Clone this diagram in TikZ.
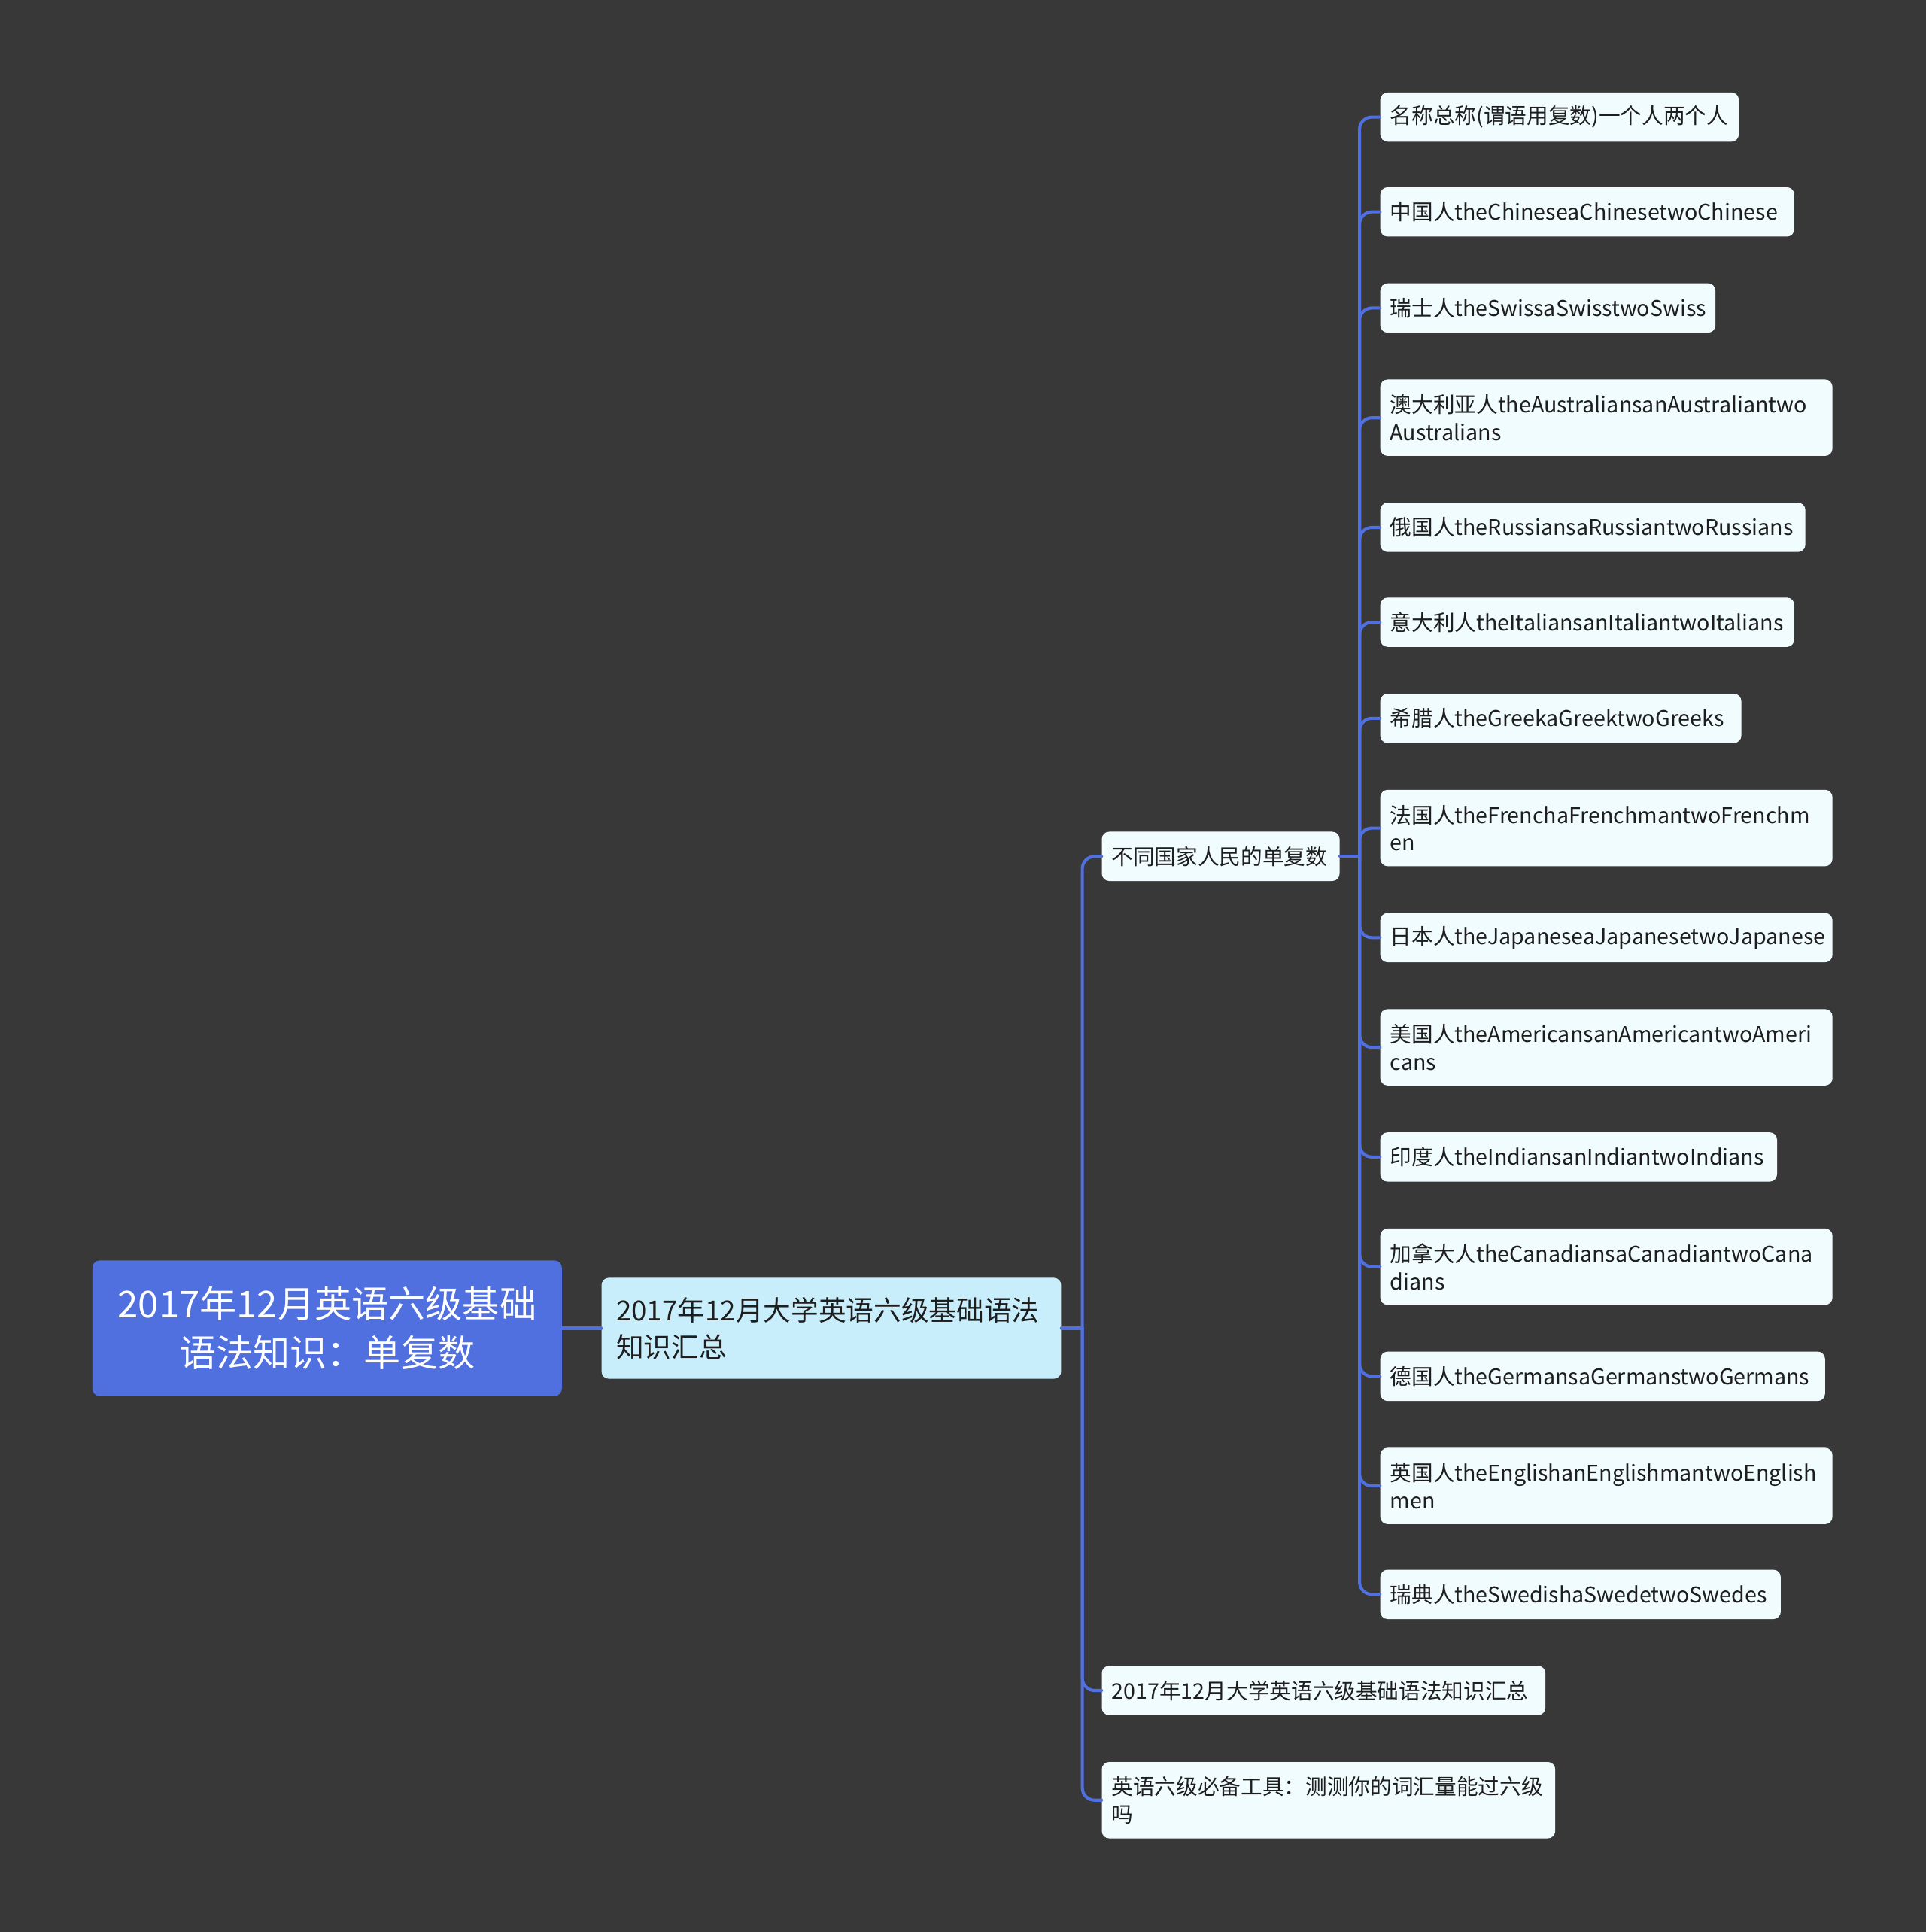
\documentclass[tikz,border=0pt]{standalone}
\usepackage{fontspec}
\setmainfont{Noto Sans CJK SC}
\usepackage{tikz}
\usepackage{xcolor}

\definecolor{bgdark}{RGB}{57,56,57}
\definecolor{mapblue}{RGB}{80,112,224}
\definecolor{subcyan}{RGB}{200,238,252}
\definecolor{leafwhite}{RGB}{240,252,253}
\definecolor{inkdark}{RGB}{30,30,30}

\tikzset{
    rootbox/.style={fill=mapblue, rounded corners=6pt, text=white, align=center,
        minimum width=381pt, minimum height=110pt, inner sep=0pt,
        font=\fontsize{30}{40}\selectfont},
    subbox/.style={fill=subcyan, rounded corners=6pt, text=inkdark, align=left,
        anchor=west, minimum height=82pt, inner xsep=12pt, inner ysep=0pt,
        font=\fontsize{22.4}{30}\selectfont},
    leafbox/.style={fill=leafwhite, rounded corners=6pt, text=inkdark, align=left,
        anchor=west, minimum height=40pt, inner xsep=8pt, inner ysep=0pt,
        font=\fontsize{17.5}{22.5}\selectfont},
    tallleaf/.style={leafbox, minimum height=62pt},
    branch/.style={draw=mapblue, line width=2.5pt, rounded corners=10pt}
}

\begin{document}
\begin{tikzpicture}[x=1pt, y=-1pt, line cap=round]

    % Background
    \fill[bgdark] (0,0) rectangle (1563,1568);
    \useasboundingbox (0,0) rectangle (1563,1568);

    % Root and main topic
    \node[rootbox] (root) at (265.5,1078) {2017年12月英语六级基础\\语法知识：单复数};
    \node[subbox, text width=349pt] (topic) at (488,1078) {2017年12月大学英语六级基础语法\\知识汇总};

    % Second level
    \node[leafbox, text width=177pt] (kinds) at (894,695) {不同国家人民的单复数};
    \node[leafbox, text width=344pt] (summary) at (894,1372) {2017年12月大学英语六级基础语法知识汇总};
    \node[tallleaf, text width=352pt] (tool) at (894,1461) {英语六级必备工具：测测你的词汇量能过六级\\吗};

    % Leaves
    \node[leafbox, text width=275pt] (name) at (1120,95) {名称总称(谓语用复数)一个人两个人};
    \node[leafbox, text width=320pt] (china) at (1120,172) {中国人theChineseaChinesetwoChinese};
    \node[leafbox, text width=256pt] (swiss) at (1120,250) {瑞士人theSwissaSwisstwoSwiss};
    \node[tallleaf, text width=351pt] (austr) at (1120,339) {澳大利亚人theAustraliansanAustraliantwo\\Australians};
    \node[leafbox, text width=329pt] (russia) at (1120,428) {俄国人theRussiansaRussiantwoRussians};
    \node[leafbox, text width=320pt] (italy) at (1120,505) {意大利人theItaliansanItaliantwoItalians};
    \node[leafbox, text width=277pt] (greece) at (1120,583) {希腊人theGreekaGreektwoGreeks};
    \node[tallleaf, text width=351pt] (france) at (1120,672) {法国人theFrenchaFrenchmantwoFrenchm\\en};
    \node[leafbox, text width=351pt] (japan) at (1120,761) {日本人theJapaneseaJapanesetwoJapanese};
    \node[tallleaf, text width=351pt] (usa) at (1120,850) {美国人theAmericansanAmericantwoAmeri\\cans};
    \node[leafbox, text width=306pt] (india) at (1120,939) {印度人theIndiansanIndiantwoIndians};
    \node[tallleaf, text width=351pt] (canada) at (1120,1028) {加拿大人theCanadiansaCanadiantwoCana\\dians};
    \node[leafbox, text width=345pt] (germany) at (1120,1117) {德国人theGermansaGermanstwoGermans};
    \node[tallleaf, text width=351pt] (england) at (1120,1206) {英国人theEnglishanEnglishmantwoEnglish\\men};
    \node[leafbox, text width=309pt] (sweden) at (1120,1294) {瑞典人theSwedishaSwedetwoSwedes};

    % Fork points
    \path (topic.east) ++(17,0) coordinate (topicfork);
    \path (kinds.east) ++(16,0) coordinate (kindsfork);

    % Connectors
    \draw[branch] (root.east) -- (topic.west);
    \draw[branch] (topic.east) -- (topicfork);
    \draw[branch] (topicfork) |- (kinds.west);
    \draw[branch] (topicfork) |- (summary.west);
    \draw[branch] (topicfork) |- (tool.west);

    \draw[branch] (kinds.east) -- (kindsfork);
    \draw[branch] (kindsfork) |- (name.west);
    \draw[branch] (kindsfork) |- (china.west);
    \draw[branch] (kindsfork) |- (swiss.west);
    \draw[branch] (kindsfork) |- (austr.west);
    \draw[branch] (kindsfork) |- (russia.west);
    \draw[branch] (kindsfork) |- (italy.west);
    \draw[branch] (kindsfork) |- (greece.west);
    \draw[branch] (kindsfork) |- (france.west);
    \draw[branch] (kindsfork) |- (japan.west);
    \draw[branch] (kindsfork) |- (usa.west);
    \draw[branch] (kindsfork) |- (india.west);
    \draw[branch] (kindsfork) |- (canada.west);
    \draw[branch] (kindsfork) |- (germany.west);
    \draw[branch] (kindsfork) |- (england.west);
    \draw[branch] (kindsfork) |- (sweden.west);
\end{tikzpicture}
\end{document}
